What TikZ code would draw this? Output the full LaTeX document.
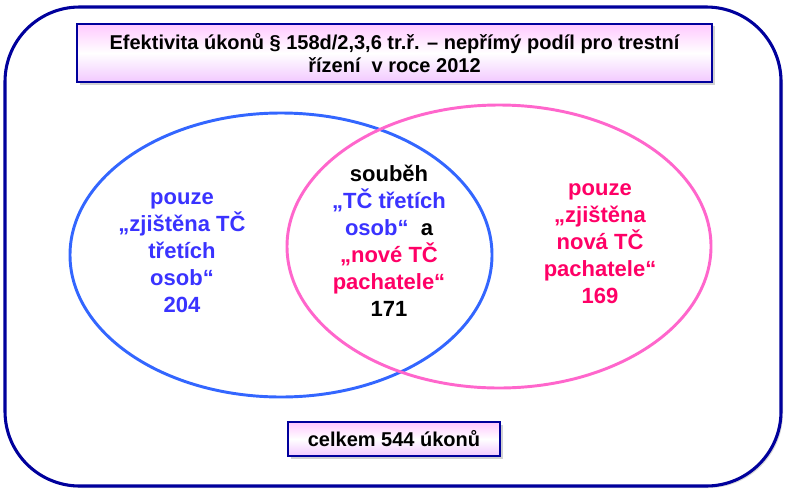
\documentclass[tikz,border=0pt]{standalone}
\usepackage{fontspec}
\setmainfont{Liberation Sans}
\usetikzlibrary{shadows}
\definecolor{FrameInk}{HTML}{00009C}
\definecolor{SetBlue}{HTML}{3366FF}
\definecolor{SetPink}{HTML}{FF66CC}
\definecolor{TextBlue}{HTML}{3A33FF}
\definecolor{TextPink}{HTML}{FF0066}
\definecolor{BoxPink}{HTML}{FFC8FF}
\definecolor{BoxLilac}{HTML}{F2C8FF}
\tikzset{
  every node/.style={font=\bfseries},
  frame/.style={draw=FrameInk, fill=white, line width=2.3pt, rounded corners=56pt,
    drop shadow={shadow xshift=1.5pt, shadow yshift=-1.5pt, opacity=0.3}},
  caption/.style={draw=FrameInk, line width=1.5pt, inner sep=0pt,
    top color=BoxPink, bottom color=BoxLilac, middle color=white,
    drop shadow={shadow xshift=2pt, shadow yshift=-2pt, opacity=0.35},
    align=center, font=\bfseries\fontsize{15}{17.5}\selectfont},
  set/.style={line width=2.2pt},
  region/.style={align=center, font=\bfseries\fontsize{16.5}{20.3}\selectfont},
}

\begin{document}
\begin{tikzpicture}[x=0.75pt,y=-0.75pt]
  \useasboundingbox (0,0) rectangle (787,496);
  % outer frame
  \draw[frame] (5,7) rectangle (781,486);
  % heading
  \node[caption, minimum width=476pt, minimum height=44pt] (title) at (394.5,53)
    {Efektivita úkonů § 158d/2,3,6 tr.ř. – nepřímý podíl pro trestní\\řízení \ v roce 2012};
  % the two sets
  \draw[set, SetBlue] (281,255) ellipse [x radius=211, y radius=142];
  \draw[set, SetPink] (499,246.5) ellipse [x radius=212, y radius=141.5];
  % region labels
  \node[region, text=TextBlue] (onlyA) at (182,253)
    {pouze\\„zjištěna TČ\\třetích\\osob“\\204};
  \node[region, text=black] (both) at (389,241)
    {souběh\\{\color{TextBlue}„TČ třetích}\\{\color{TextBlue}osob“}\ \ a\\
     {\color{TextPink}„nové TČ}\\{\color{TextPink}pachatele“}\\171};
  \node[region, text=TextPink] (onlyB) at (600,244)
    {pouze\\„zjištěna\\nová TČ\\pachatele“\\169};
  % total
  \node[caption, minimum width=159pt, minimum height=25.5pt] (total) at (394,439)
    {celkem 544 úkonů};
\end{tikzpicture}
\end{document}
